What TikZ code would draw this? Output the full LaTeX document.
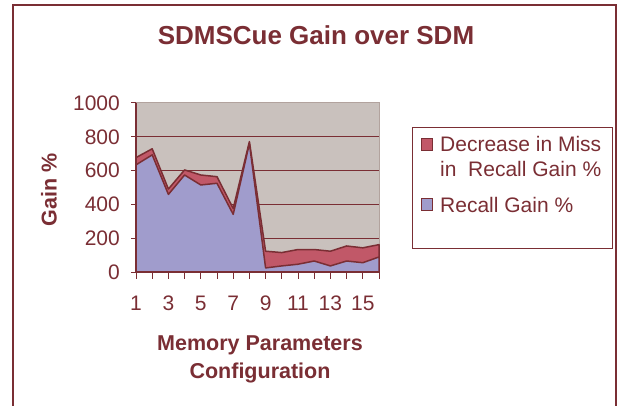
\documentclass[tikz,border=0pt]{standalone}
\usepackage{fontspec}
\setmainfont{Liberation Sans}
\usepackage{tikz}
\usetikzlibrary{positioning}
\definecolor{rotbraun}{RGB}{122,46,52}
\definecolor{flaeche}{RGB}{201,193,189}
\definecolor{rand}{RGB}{178,163,158}
\definecolor{blaugrau}{RGB}{160,156,204}
\definecolor{altrosa}{RGB}{193,88,104}
\tikzset{
  zahl/.style={text=rotbraun,font=\fontsize{21}{25}\selectfont,inner sep=0pt},
  fett/.style={text=rotbraun,font=\bfseries\fontsize{21.5}{26}\selectfont,inner sep=0pt},
  serie/.style={draw=rotbraun,line width=1.5pt,line join=round},
  marke/.style={draw=rotbraun,line width=1pt,minimum size=11.5pt,inner sep=0pt},
}

\begin{document}
\begin{tikzpicture}[x=1pt,y=-1pt]
\useasboundingbox (0,0) rectangle (618,406);
%Rahmen, unten abgeschnitten
\draw[rotbraun,line width=2.5pt] (13,406) -- (13,5) -- (616,5) -- (616,406);
\node[fett,font=\bfseries\fontsize{26}{30}\selectfont] (titel) at (316,35) {SDMSCue Gain over SDM};
%Werte: Recall Gain / Decrease in Miss (gestapelt)
\def\daten{634/43,693/36,459/32,574/30,515/59,525/39,341/35,760/12,24/99,36/79,46/87,65/68,36/87,65/89,55/88,89/73}
\begin{scope}[shift={(136,272)},x=16.2pt,y=0.169pt]
  \fill[flaeche] (0,0) rectangle (15,1000);
  \draw[rand,line width=1pt] (0,1000) -- (15,1000) -- (15,0);
  \foreach \v in {200,400,...,800}
    \draw[rotbraun,line width=0.8pt] (0,\v) -- (15,\v);
  \draw[serie,fill=altrosa] (0,0) \foreach \r/\d [count=\n from 0] in \daten { -- (\n,\r+\d) } -- (15,0) -- cycle;
  \draw[serie,fill=blaugrau] (0,0) \foreach \r/\d [count=\n from 0] in \daten { -- (\n,\r) } -- (15,0) -- cycle;
  \draw[rotbraun,line width=1.2pt] (0,1000) -- (0,0) -- (15,0);
  \foreach \v in {0,200,...,1000}{
    \draw[rotbraun,line width=1pt] (0,\v) -- ++(-5pt,0);
    \node[zahl,anchor=east] (y\v) at ([xshift=-16pt]0,\v) {\v};
  }
  \foreach \n in {0,...,15}
    \draw[rotbraun,line width=1pt] (\n,0) -- ++(0,-7pt);
  \foreach \n [evaluate=\n as \k using int(2*\n+1)] in {0,...,7}
    \node[zahl] (x\k) at ([yshift=-31pt]2*\n,0) {\k};
\end{scope}
\node[fett,rotate=90] (ytitel) at (49,190) {Gain \%};
\node[fett,anchor=base] (xtitel) at (260,350) {Memory Parameters};
\node[fett,anchor=base] (xtitelZwei) at (260,378) {Configuration};
%Legende
\node[draw=rotbraun,line width=0.8pt,minimum width=200pt,minimum height=121pt,anchor=north west,inner sep=0pt] (legende) at (412,127) {};
\node[zahl,anchor=base west] (legRot) at (440,152) {Decrease in Miss};
\node[zahl,anchor=base west] (legRotZwei) at (440,177) {in\ \ Recall Gain \%};
\node[zahl,anchor=base west] (legBlau) at (440,212) {Recall Gain \%};
\node[marke,fill=altrosa,left=7pt of legRot.west] (mkRot) {};
\node[marke,fill=blaugrau,left=7pt of legBlau.west] (mkBlau) {};
\end{tikzpicture}
\end{document}
